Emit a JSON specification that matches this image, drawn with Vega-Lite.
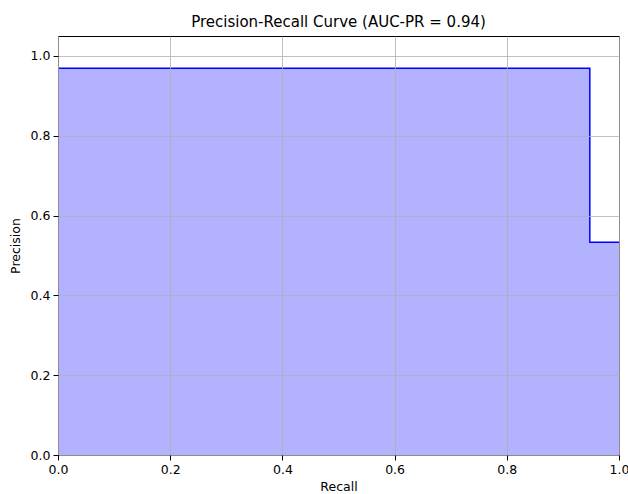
{
  "$schema": "https://vega.github.io/schema/vega-lite/v6.json",
  "width": 561,
  "height": 419,
  "autosize": {"type": "none"},
  "padding": {"left": 58, "top": 36, "right": 9, "bottom": 39},
  "background": "white",
  "title": {"text": "Precision-Recall Curve (AUC-PR = 0.94)", "fontSize": 15, "fontWeight": "normal", "font": "DejaVu Sans", "color": "black", "offset": 6},
  "config": {
    "view": {"stroke": "black", "strokeWidth": 1},
    "axis": {
      "labelFont": "DejaVu Sans", "titleFont": "DejaVu Sans",
      "labelFontSize": 12.5, "titleFontSize": 12.5, "labelColor": "black", "titleColor": "black",
      "titleFontWeight": "normal", "tickColor": "black", "tickSize": 5, "domain": false,
      "gridColor": "#b0b0b0", "gridWidth": 0.8, "labelPadding": 3, "labelFlush": false
    }
  },
  "data": {"values": [
    {"recall": 0.0, "precision": 0.969},
    {"recall": 0.948, "precision": 0.533},
    {"recall": 1.0, "precision": 0.533}
  ]},
  "encoding": {
    "x": {"field": "recall", "type": "quantitative", "scale": {"domain": [0, 1], "nice": false, "zero": false},
      "axis": {"title": "Recall", "values": [0, 0.2, 0.4, 0.6, 0.8, 1.0], "format": ".1f", "titlePadding": 5, "zindex": 1}},
    "y": {"field": "precision", "type": "quantitative", "scale": {"domain": [0, 1.05], "nice": false},
      "axis": {"title": "Precision", "values": [0, 0.2, 0.4, 0.6, 0.8, 1.0], "format": ".1f", "titlePadding": 8, "zindex": 1}}
  },
  "layer": [
    {"mark": {"type": "area", "interpolate": "step-after", "color": "#0000ff", "opacity": 0.3}},
    {"mark": {"type": "line", "interpolate": "step-after", "color": "#0000ff", "strokeWidth": 1.5}}
  ]
}
